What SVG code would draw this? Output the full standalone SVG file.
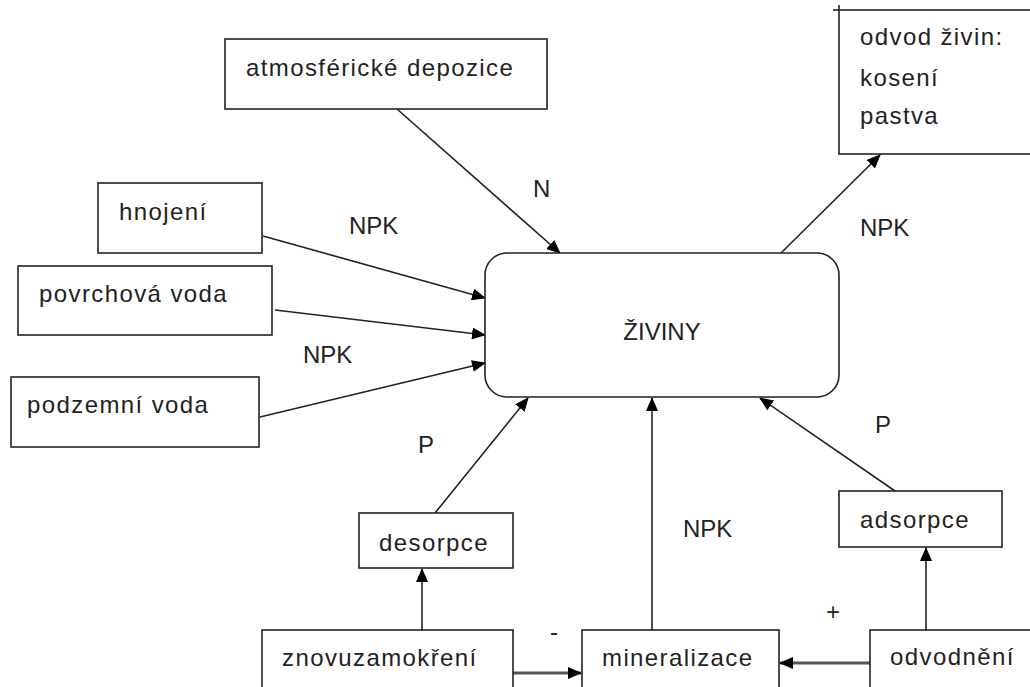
<svg xmlns="http://www.w3.org/2000/svg" width="1030" height="687" viewBox="0 0 1030 687">
<defs>
<style>
.box{fill:#fff;stroke:#222;stroke-width:1.6}
.t{font-family:"Liberation Sans",Arial,sans-serif;font-size:24px;letter-spacing:1.4px;fill:#222}
.lbl{font-family:"Liberation Sans",Arial,sans-serif;font-size:24px;fill:#222}
.c{fill:none;stroke:#222;stroke-width:1.6}
.c2{fill:none;stroke:#555;stroke-width:3}
</style>
<marker id="ah" markerUnits="userSpaceOnUse" markerWidth="14" markerHeight="12" refX="13" refY="6" orient="auto">
<path d="M0,0 L14,6 L0,12 Z" fill="#000"/>
</marker>
</defs>
<rect width="1030" height="687" fill="#fff"/>
<g id="connectors">
<line class="c" x1="397" y1="109" x2="560" y2="253" marker-end="url(#ah)"/>
<line class="c" x1="263" y1="236" x2="485" y2="298" marker-end="url(#ah)"/>
<line class="c" x1="275" y1="310" x2="485" y2="335" marker-end="url(#ah)"/>
<line class="c" x1="260" y1="417" x2="485" y2="363" marker-end="url(#ah)"/>
<line class="c" x1="780" y1="254" x2="880" y2="155" marker-end="url(#ah)"/>
<line class="c" x1="435" y1="513" x2="528" y2="398" marker-end="url(#ah)"/>
<line class="c" x1="652" y1="630" x2="652" y2="398" marker-end="url(#ah)"/>
<line class="c" x1="895" y1="491" x2="760" y2="398" marker-end="url(#ah)"/>
<line class="c" x1="422" y1="630" x2="422" y2="569" marker-end="url(#ah)"/>
<line class="c" x1="926" y1="630" x2="926" y2="548" marker-end="url(#ah)"/>
<line class="c2" x1="513" y1="673" x2="581" y2="673" marker-end="url(#ah)"/>
<line class="c2" x1="870" y1="663" x2="780" y2="663" marker-end="url(#ah)"/>
<line class="c" x1="833" y1="10" x2="839" y2="10"/>
<line class="c" x1="839" y1="5" x2="839" y2="10"/>
</g>
<g id="labels">
<text class="lbl" x="533" y="197">N</text>
<text class="lbl" x="349" y="234">NPK</text>
<text class="lbl" x="303" y="363">NPK</text>
<text class="lbl" x="860" y="236">NPK</text>
<text class="lbl" x="418" y="453">P</text>
<text class="lbl" x="875" y="433">P</text>
<text class="lbl" x="683" y="537">NPK</text>
<text class="lbl" x="550" y="640">-</text>
<text class="lbl" x="826" y="620">+</text>
</g>
<g id="atm"><rect class="box" x="225" y="39" width="322" height="70"/><text class="t" x="246" y="76">atmosférické depozice</text></g>
<g id="odvod"><rect class="box" x="839" y="10" width="200" height="144"/><text class="t" x="860" y="45">odvod živin:</text><text class="t" x="860" y="86">kosení</text><text class="t" x="860" y="124">pastva</text></g>
<g id="hnojeni"><rect class="box" x="98" y="183" width="164" height="70"/><text class="t" x="119" y="220">hnojení</text></g>
<g id="povrchova"><rect class="box" x="18" y="266" width="254" height="69"/><text class="t" x="39" y="302">povrchová voda</text></g>
<g id="podzemni"><rect class="box" x="11" y="377" width="248" height="70"/><text class="t" x="27" y="413">podzemní voda</text></g>
<g id="ziviny"><rect class="box" x="485" y="253" width="354" height="144" rx="22"/><text class="lbl" x="662" y="340" text-anchor="middle" font-size="25">ŽIVINY</text></g>
<g id="desorpce"><rect class="box" x="359" y="513" width="154" height="55"/><text class="t" x="379" y="551">desorpce</text></g>
<g id="adsorpce"><rect class="box" x="839" y="491" width="163" height="56"/><text class="t" x="860" y="528">adsorpce</text></g>
<g id="znovu"><rect class="box" x="262" y="630" width="251" height="70"/><text class="t" x="282" y="666">znovuzamokření</text></g>
<g id="mineralizace"><rect class="box" x="582" y="630" width="197" height="70"/><text class="t" x="602" y="666">mineralizace</text></g>
<g id="odvodneni"><rect class="box" x="870" y="630" width="170" height="70"/><text class="t" x="890" y="665">odvodnění</text></g>
</svg>
